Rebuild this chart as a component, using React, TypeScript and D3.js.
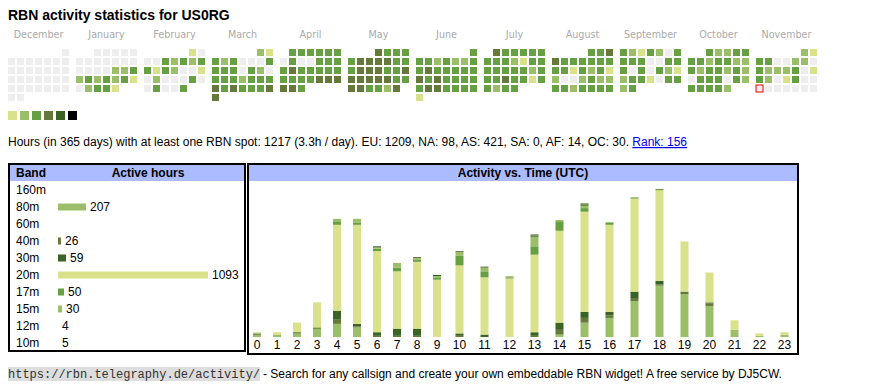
// App.tsx
// RBN activity widget: calendar of daily activity, band totals and activity per UTC hour
import * as d3 from 'd3';
import React, { useRef, useEffect } from 'react';

const callsign = "US0RG";

// calendar (one entry per day, level 0..6)
const monthNames = ["December", "January", "February", "March", "April", "May", "June", "July", "August", "September", "October", "November"];
const monthStarts = ["2024-12-01", "2025-01-01", "2025-02-01", "2025-03-01", "2025-04-01", "2025-05-01", "2025-06-01", "2025-07-01", "2025-08-01", "2025-09-01", "2025-10-01", "2025-11-01"];
const dec = [0,0,0,0,0,0,0,0,0,0,0,0,0,0,0,0,0,0,0,0,0,0,0,0,0,0,0,0,0,0,0];
const jan = [0,0,0,0,0,0,0,0,0,0,0,0,0,0,0,0,2,2,3,2,3,2,3,2,3,1,0,2,3,3,1];
const feb = [1,0,0,0,3,2,3,2,3,3,1,3,2,0,0,1,0,2,0,0,0,3,0,0,3,0,0,3];
const mar = [2,1,3,2,3,0,0,0,3,3,3,3,0,3,2,0,3,3,3,2,3,3,3,4,3,4,3,3,3,4,4];
const apr = [3,3,3,3,3,3,0,3,0,0,3,3,3,3,4,3,3,3,3,3,3,3,3,3,4,4,4,4,4,3];
const may = [4,3,3,3,3,4,4,4,4,3,3,3,4,4,4,3,3,4,4,4,4,4,4,3,3,4,4,3,3,2,4];
const jun = [3,3,3,2,3,2,2,3,3,4,3,3,3,3,3,4,3,4,3,3,3,3,3,4,4,3,3,3,3,1];
const jul = [4,3,3,3,3,3,3,3,3,2,1,3,3,3,3,3,3,3,2,3,3,3,4,3,3,1,3,3,2,3,3];
const aug = [3,3,4,4,3,3,3,3,3,3,3,3,1,3,2,3,1,2,0,0,2,3,2,2,3,3,2,3,3,3,3];
const sep = [3,2,1,3,2,0,3,3,3,3,0,0,3,3,3,0,3,0,3,2,1,2,3,3,1,0,3,3,2,3];
const oct = [3,2,2,3,3,3,3,2,3,3,2,2,3,2,3,3,2,3,2,0,3,3,3,0,3,2,3,3,3,3,2];
const nov = [2,1,3,3,0,0,2,2,0,3,2,2,2,3,0,1,3,2,0,1,3,0,0,0,0,0,0,0,0,0];
const monthLevels = [dec, jan, feb, mar, apr, may, jun, jul, aug, sep, oct, nov];
const today = "2025-11-24";
const levelColors = ["#eeeeee", "#d9e18a", "#9bbf68", "#66a043", "#66793a", "#3a6426", "#000000"];

// band table
const bands = ["160m", "80m", "60m", "40m", "30m", "20m", "17m", "15m", "12m", "10m"];
const bandHours = [0, 207, 0, 26, 59, 1093, 50, 30, 4, 5];
const bandColors = ["#4a4a4a", "#9bbf68", "#888888", "#66793a", "#3a6426", "#d9e18a", "#66a043", "#9bbf68", "#3a6426", "#66793a"];

// activity per UTC hour, per band
const hourLabels = ["0","1","2","3","4","5","6","7","8","9","10","11","12","13","14","15","16","17","18","19","20","21","22","23"];
const h160 = [0,0,0,0,0,0,0,0,0,0,0,0,0,0,0,0,0,0,0,0,0,0,0,0];
const h80 = [2,2,3,7,11,8,0,0,0,0,0,0,0,0,2,12,16,30,43,36,26,6,1,2];
const h60 = [0,0,0,0,0,0,0,0,0,0,0,0,0,0,0,0,0,0,0,0,0,0,0,0];
const h40 = [0,0,0,0,4,1,1,1,1,0,1,0,0,1,4,4,2,2,1,1,2,0,0,0];
const h30 = [1,0,1,1,7,2,3,6,6,0,2,2,0,3,6,5,3,6,3,1,1,0,0,0];
const h20 = [1,2,8,21,72,83,68,48,56,48,57,48,49,65,77,84,73,78,76,42,25,8,2,2];
const h17 = [0,0,0,0,3,2,2,3,2,2,8,5,1,7,8,3,2,1,1,0,0,0,0,0];
const h15 = [0,0,0,0,2,3,1,4,1,1,3,3,1,8,1,2,0,0,0,0,0,0,0,0];
const h12 = [0,0,0,0,0,0,1,0,0,1,0,0,0,1,0,1,0,0,0,0,0,0,0,0];
const h10 = [0,0,0,0,0,0,0,0,1,0,1,1,0,1,0,1,0,0,0,0,0,0,0,0];
const hourSeries = [h160, h80, h60, h40, h30, h20, h17, h15, h12, h10];

const sans = "Liberation Sans, Arial, sans-serif";

function App() {
    const ref = useRef(null);

    useEffect(() => {
        const svg = d3.select(ref.current);
        svg.selectAll("*").remove();

        // title
        svg.append("text").attr("x", 8).attr("y", 20)
            .attr("font-family", sans).attr("font-size", 14).attr("font-weight", "bold")
            .text("RBN activity statistics for " + callsign);

        // calendar: one block of 7 columns per month, weeks as rows
        const xMonth = d3.scaleBand().domain(monthNames).range([8, 8 + 68 * 12]);
        const col = d3.scaleLinear().domain([0, 1]).range([0, 9]);
        const row = d3.scaleLinear().domain([0, 1]).range([49, 58]);
        const parse = d3.utcParse("%Y-%m-%d");
        const todayDate = parse(today);

        const cal = svg.append("g");
        monthNames.forEach((m, i) => {
            const start = parse(monthStarts[i]);
            cal.append("text")
                .attr("x", xMonth(m) + 30.5).attr("y", 38)
                .attr("text-anchor", "middle").attr("fill", "#aaaaaa")
                .attr("font-family", "DejaVu Sans, Verdana, sans-serif").attr("font-size", 9.6)
                .text(m);
            const days = monthLevels[i].map((lvl, d) => ({ date: d3.utcDay.offset(start, d), lvl }));
            cal.selectAll(null).data(days).enter().append("rect")
                .attr("x", d => xMonth(m) + col((d.date.getUTCDay() + 6) % 7))
                .attr("y", d => row(d3.utcMonday.count(start, d.date)))
                .attr("width", 7).attr("height", 7)
                .attr("fill", d => levelColors[d.lvl])
                .attr("stroke", d => +d.date === +todayDate ? "#ee0000" : "none")
                .attr("stroke-width", 1);
        });

        // level legend
        svg.append("g").selectAll("rect").data(levelColors.slice(1)).enter().append("rect")
            .attr("x", (d, i) => 8 + i * 12).attr("y", 111)
            .attr("width", 9).attr("height", 9)
            .attr("fill", d => d);

        // summary line
        const info = svg.append("text").attr("x", 8).attr("y", 146)
            .attr("font-family", sans).attr("font-size", 12);
        info.append("tspan").text("Hours (in 365 days) with at least one RBN spot: 1217 (3.3h / day). EU: 1209, NA: 98, AS: 421, SA: 0, AF: 14, OC: 30. ");
        info.append("tspan").attr("fill", "#0000ee").attr("text-decoration", "underline")
            .style("text-decoration", "underline").text("Rank: 156");

        // band table
        const tbl = svg.append("g");
        tbl.append("rect").attr("x", 9).attr("y", 164).attr("width", 236).attr("height", 187)
            .attr("fill", "white").attr("stroke", "black").attr("stroke-width", 2);
        tbl.append("rect").attr("x", 10).attr("y", 165).attr("width", 234).attr("height", 16).attr("fill", "#aabbff");
        tbl.append("text").attr("x", 16).attr("y", 177).attr("font-family", sans).attr("font-size", 12)
            .attr("font-weight", "bold").text("Band");
        tbl.append("text").attr("x", 148).attr("y", 177).attr("text-anchor", "middle").attr("font-family", sans)
            .attr("font-size", 12).attr("font-weight", "bold").text("Active hours");

        const yBand = d3.scaleBand().domain(bands).range([181.5, 181.5 + 17 * bands.length]);
        const wBar = d3.scaleLinear().domain([0, d3.max(bandHours)]).range([0, 150]);
        const barW = v => Math.floor(wBar(v)); // table cells get whole pixels
        const rows = tbl.selectAll("g.band").data(bands).enter().append("g").attr("class", "band")
            .attr("transform", d => "translate(0," + (yBand(d) + 12) + ")");
        rows.append("text").attr("x", 16).attr("font-family", sans).attr("font-size", 12).text(d => d);
        rows.append("rect").attr("x", 58).attr("y", -7).attr("height", 7)
            .attr("width", (d, i) => barW(bandHours[i]))
            .attr("fill", (d, i) => bandColors[i]);
        rows.append("text").attr("x", (d, i) => 58 + barW(bandHours[i]) + 4)
            .attr("font-family", sans).attr("font-size", 12)
            .text((d, i) => bandHours[i] > 0 ? bandHours[i] : "");

        // activity vs time
        const act = svg.append("g");
        act.append("rect").attr("x", 248).attr("y", 164).attr("width", 550).attr("height", 190)
            .attr("fill", "white").attr("stroke", "black").attr("stroke-width", 2);
        act.append("rect").attr("x", 249).attr("y", 165).attr("width", 548).attr("height", 16).attr("fill", "#aabbff");
        act.append("text").attr("x", 523).attr("y", 177).attr("text-anchor", "middle").attr("font-family", sans)
            .attr("font-size", 12).attr("font-weight", "bold").text("Activity vs. Time (UTC)");

        // table-like columns: wider columns for two-digit hours
        const widths = hourLabels.map(h => 15 + 5 * h.length);
        const lefts = d3.cumsum([0].concat(widths.slice(0, -1))).map(v => 247 + v);
        const xHour = d3.scaleOrdinal().domain(hourLabels).range(hourLabels.map((h, i) => lefts[i] + widths[i] / 2));

        const table = hourLabels.map((h, i) => {
            const o = { hour: h };
            bands.forEach((b, j) => { o[b] = hourSeries[j][i]; });
            return o;
        });
        const stacked = d3.stack().keys(bands)(table);
        const yAct = d3.scaleLinear()
            .domain([0, d3.max(table, d => d3.sum(bands, b => d[b]))])
            .range([337, 189]);

        act.selectAll("g.layer").data(stacked).enter().append("g").attr("class", "layer")
            .attr("fill", (d, i) => bandColors[i])
            .selectAll("rect").data(d => d).enter().append("rect")
                .attr("x", d => xHour(d.data.hour) - 4)
                .attr("width", 8)
                .attr("y", d => yAct(d[1]))
                .attr("height", d => yAct(d[0]) - yAct(d[1]));

        act.selectAll("text.hour").data(hourLabels).enter().append("text").attr("class", "hour")
            .attr("x", d => xHour(d)).attr("y", 349)
            .attr("text-anchor", "middle").attr("font-family", sans).attr("font-size", 12)
            .text(d => d);

        // footer
        const url = "https://rbn.telegraphy.de/activity/";
        const foot = svg.append("g");
        foot.append("rect").attr("x", 8).attr("y", 367).attr("width", url.length * 7.2).attr("height", 14).attr("fill", "#dddddd");
        foot.append("text").attr("x", 8).attr("y", 378).attr("font-family", "Liberation Mono, DejaVu Sans Mono, monospace")
            .attr("font-size", 12).attr("fill", "#333").text(url);
        foot.append("text").attr("x", 8 + url.length * 7.2 + 3).attr("y", 378)
            .attr("font-family", sans).attr("font-size", 12)
            .text("- Search for any callsign and create your own embeddable RBN widget! A free service by DJ5CW.");
    }, []);

    return (
        <svg ref={ref} width={870} height={390}
            style={{ position: "absolute", left: 0, top: 0, background: "white" }}>
        </svg>
    );
}

export default App;
